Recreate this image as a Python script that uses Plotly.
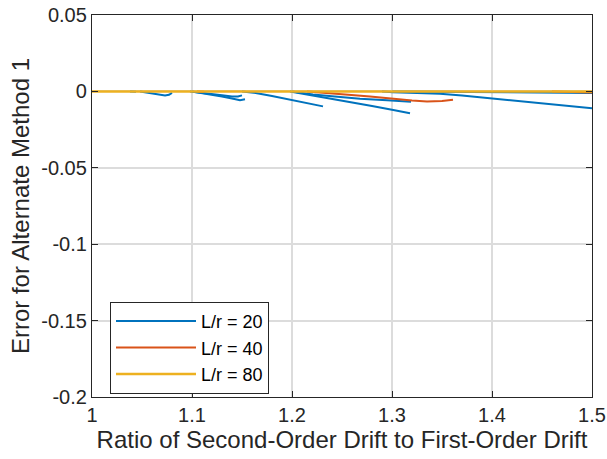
import plotly.graph_objects as go

# ---- data ----
# L/r = 20 (several curves, separated by None)
x20 = [1.038, 1.041, 1.044, None,
       1.048, 1.055, 1.062, 1.068, 1.073, 1.077, 1.080, None,
       1.098, 1.110, 1.120, 1.130, 1.140, 1.146, 1.150, None,
       1.100, 1.115, 1.130, 1.140, 1.148, 1.153, None,
       1.150, 1.165, 1.180, 1.195, 1.210, 1.220, 1.231, None,
       1.200, 1.221, 1.240, 1.268, 1.295, 1.319, None,
       1.198, 1.220, 1.240, 1.260, 1.280, 1.300, 1.318, None,
       1.290, 1.301, 1.325, 1.348, 1.370, 1.388, 1.410, 1.438, 1.470, 1.500, None,
       1.300, 1.350, 1.400, 1.450, 1.500]
y20 = [0.0, -0.0002, -0.0003, None,
       0.0, -0.0007, -0.0015, -0.0023, -0.0027, -0.0022, -0.0010, None,
       0.0, -0.0008, -0.0016, -0.0025, -0.0033, -0.0033, -0.0026, None,
       0.0, -0.0015, -0.0033, -0.0047, -0.0058, -0.0052, None,
       0.0, -0.0012, -0.0030, -0.0050, -0.0070, -0.0085, -0.0098, None,
       0.0, -0.0020, -0.0032, -0.0048, -0.0058, -0.0067, None,
       0.0, -0.0025, -0.0045, -0.0070, -0.0095, -0.0120, -0.0143, None,
       0.0, -0.0005, -0.0010, -0.0015, -0.0027, -0.0038, -0.0052, -0.0069, -0.0090, -0.0111, None,
       0.0, -0.0002, -0.0004, -0.0007, -0.0010]

# L/r = 40
x40 = [1.105, 1.112, None,
       1.215, 1.225, 1.250, 1.278, 1.301, 1.320, 1.335, 1.350, 1.361, None,
       1.460, 1.480, 1.500]
y40 = [0.0, -0.0003, None,
       0.0, -0.0004, -0.0018, -0.0033, -0.0050, -0.0060, -0.0066, -0.0063, -0.0055, None,
       0.0, -0.0002, -0.0007]

# L/r = 80
x80 = [1.0, 1.5]
y80 = [0.0, 0.0]

x_ticks = [1.0, 1.1, 1.2, 1.3, 1.4, 1.5]
x_ticktext = ["1", "1.1", "1.2", "1.3", "1.4", "1.5"]
y_ticks = [0.05, 0.0, -0.05, -0.1, -0.15, -0.2]
y_ticktext = ["0.05", "0", "-0.05", "-0.1", "-0.15", "-0.2"]

FONT = "Liberation Sans, Arial, sans-serif"
TXT = "#262626"

fig = go.Figure()
fig.add_trace(go.Scatter(x=x20, y=y20, mode="lines", name="L/r = 20",
                         line=dict(color="#0072BD", width=2), connectgaps=False))
fig.add_trace(go.Scatter(x=x40, y=y40, mode="lines", name="L/r = 40",
                         line=dict(color="#D95319", width=2), connectgaps=False))
fig.add_trace(go.Scatter(x=x80, y=y80, mode="lines", name="L/r = 80",
                         line=dict(color="#EDB120", width=2.5)))

axis_common = dict(
    showline=True, linecolor=TXT, linewidth=1.3, mirror="ticks",
    ticks="inside", ticklen=6, tickwidth=1.3, tickcolor=TXT,
    showgrid=True, gridcolor="#dcdcdc", gridwidth=1.5, zeroline=False,
    automargin=False,
    tickfont=dict(family=FONT, size=20, color=TXT),
)

fig.update_xaxes(range=[1.0, 1.5], tickvals=x_ticks, ticktext=x_ticktext,
                 title=dict(text="Ratio of Second-Order Drift to First-Order Drift",
                            font=dict(family=FONT, size=24, color=TXT),
                            standoff=6),
                 **axis_common)
fig.update_yaxes(range=[-0.2, 0.05], tickvals=y_ticks, ticktext=y_ticktext,
                 title=dict(text="Error for Alternate Method 1",
                            font=dict(family=FONT, size=24, color=TXT),
                            standoff=4),
                 **axis_common)

fig.update_layout(
    width=607, height=459,
    margin=dict(l=92, r=15, t=15, b=62),
    paper_bgcolor="white", plot_bgcolor="white",
    showlegend=True,
    legend=dict(x=0.036, y=0.249, xanchor="left", yanchor="top",
                bgcolor="white", bordercolor=TXT, borderwidth=1,
                font=dict(family=FONT, size=18, color="#000000"),
                itemwidth=80, tracegroupgap=0,
                entrywidth=160, entrywidthmode="pixels"),
)

fig.write_html("out.html",
               config={"displayModeBar": False},
               post_script="document.body.style.margin='0px';document.body.style.overflow='hidden';")
